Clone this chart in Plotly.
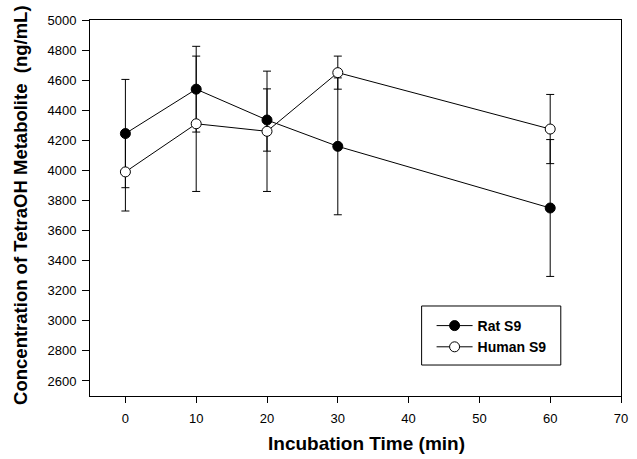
import plotly.graph_objects as go

time_min = [0, 10, 20, 30, 60]
rat_s9 = [4245, 4540, 4335, 4160, 3750]
rat_s9_err = [360, 285, 207, 455, 455]
human_s9 = [3990, 4310, 4260, 4650, 4275]
human_s9_err = [260, 450, 400, 110, 230]

x_ticks = [0, 10, 20, 30, 40, 50, 60, 70]
y_ticks = list(range(2600, 5001, 200))

FONT = "Liberation Sans, Arial, sans-serif"

fig = go.Figure()
fig.add_trace(go.Scatter(
    x=time_min, y=rat_s9, name="Rat S9", mode="lines+markers",
    line=dict(color="black", width=1),
    marker=dict(symbol="circle", size=10, color="black", line=dict(color="black", width=1)),
    error_y=dict(type="data", array=rat_s9_err, visible=True, color="black", thickness=1, width=4),
))
fig.add_trace(go.Scatter(
    x=time_min, y=human_s9, name="Human S9", mode="lines+markers",
    line=dict(color="black", width=1),
    marker=dict(symbol="circle", size=10, color="white", line=dict(color="black", width=1)),
    error_y=dict(type="data", array=human_s9_err, visible=True, color="black", thickness=1, width=4),
))

# legend frame
fig.add_shape(type="rect", xref="paper", yref="paper",
              x0=0.6245, x1=0.8866, y0=0.0824, y1=0.2394,
              line=dict(color="black", width=1), fillcolor="white", layer="below")

# axis titles (offset as in the reference)
fig.add_annotation(text="<b>Incubation Time (min)</b>", xref="paper", yref="paper",
                   x=0.5204, y=-0.125, xanchor="center", yanchor="middle", showarrow=False,
                   font=dict(family=FONT, size=19, color="black"))
fig.add_annotation(text="<b>Concentration of TetraOH Metabolite  (ng/mL)</b>", xref="paper", yref="paper",
                   x=-0.1301, y=0.508, xanchor="center", yanchor="middle", showarrow=False,
                   textangle=-90, font=dict(family=FONT, size=18.5, color="black"))

fig.update_layout(
    width=637, height=459,
    margin=dict(l=90, r=9, t=20, b=63),
    paper_bgcolor="white", plot_bgcolor="white",
    font=dict(family=FONT, color="black", size=13),
    showlegend=True,
    legend=dict(
        x=0.6433, y=0.2287, xanchor="left", yanchor="top",
        bgcolor="rgba(0,0,0,0)", borderwidth=0,
        font=dict(family=FONT, size=14, color="black", weight="bold"),
        tracegroupgap=0, itemwidth=36,
    ),
    xaxis=dict(
        range=[-5, 70], tickvals=x_ticks, ticks="outside", ticklen=6, tickwidth=1,
        tickcolor="black", showline=True, linecolor="black", linewidth=1, mirror=True,
        showgrid=False, zeroline=False, ticklabelstandoff=4,
        tickfont=dict(family=FONT, size=13, color="black"),
    ),
    yaxis=dict(
        range=[2500, 5000], tickvals=y_ticks, ticks="outside", ticklen=7, tickwidth=1,
        tickcolor="black", showline=True, linecolor="black", linewidth=1, mirror=True,
        showgrid=False, zeroline=False, ticklabelstandoff=3,
        tickfont=dict(family=FONT, size=13, color="black"),
    ),
)

fig.write_html("out.html")
